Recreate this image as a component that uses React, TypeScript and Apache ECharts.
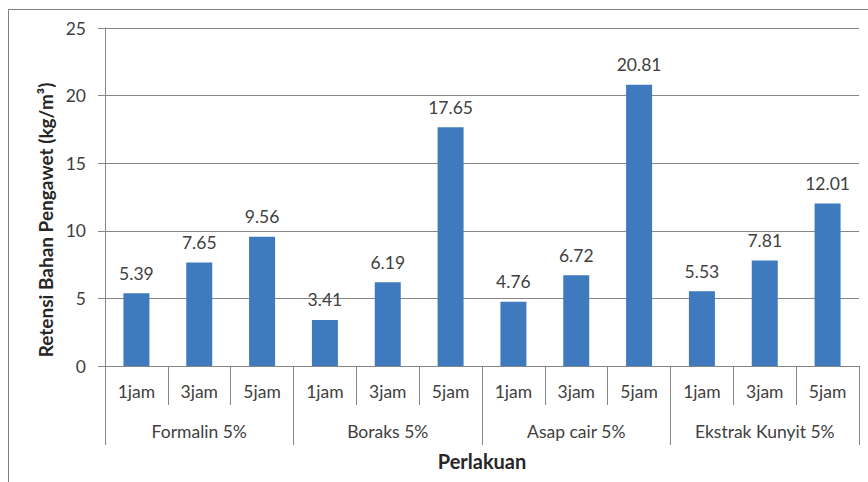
import React, { useEffect, useRef } from "react";
import * as echarts from "echarts";

const subCategories = ["1jam", "3jam", "5jam", "1jam", "3jam", "5jam", "1jam", "3jam", "5jam", "1jam", "3jam", "5jam"];
const groups = ["Formalin 5%", "Boraks 5%", "Asap cair 5%", "Ekstrak Kunyit 5%"];
const values = [5.39, 7.65, 9.56, 3.41, 6.19, 17.65, 4.76, 6.72, 20.81, 5.53, 7.81, 12.01];
const yTicks = { min: 0, max: 25, interval: 5 };

const FONT = "Lato, 'Open Sans', sans-serif";
const TEXT = "#404040";
const LINE = "#868686";
const FS = 17.5;

export default function App() {
  const ref = useRef<HTMLDivElement>(null);
  useEffect(() => {
    document.body.style.margin = "0";
    if (!ref.current) return;
    const chart = echarts.init(ref.current, undefined, { renderer: "svg" });
    chart.setOption({
      animation: false,
      backgroundColor: "#ffffff",
      textStyle: { fontFamily: FONT },
      graphic: [
        {
          type: "rect",
          shape: { x: 8.5, y: 9.5, width: 870, height: 480 },
          style: { fill: "none", stroke: "#7f7f7f", lineWidth: 1 },
          silent: true,
        },
      ],
      grid: { left: 105, right: 9, top: 28, bottom: 116, containLabel: false },
      xAxis: [
        {
          type: "category",
          data: subCategories,
          position: "bottom",
          axisLine: { show: true, lineStyle: { color: LINE } },
          axisTick: { show: true, length: 39, lineStyle: { color: LINE } },
          axisLabel: { interval: 0, margin: 16, fontSize: FS, color: TEXT, fontFamily: FONT },
        },
        {
          type: "category",
          data: groups,
          position: "bottom",
          axisLine: { show: false },
          axisTick: { show: true, length: 79, lineStyle: { color: LINE } },
          axisLabel: { interval: 0, margin: 56, fontSize: FS, color: TEXT, fontFamily: FONT },
          name: "Perlakuan",
          nameLocation: "middle",
          nameGap: 85,
          nameTextStyle: { fontSize: 20, fontWeight: "bold", color: "#262626", fontFamily: FONT },
        },
      ],
      yAxis: {
        type: "value",
        min: yTicks.min,
        max: yTicks.max,
        interval: yTicks.interval,
        axisLine: { show: true, lineStyle: { color: LINE } },
        axisTick: { show: true, length: 7, lineStyle: { color: LINE } },
        axisLabel: { fontSize: FS, color: TEXT, margin: 19, fontFamily: FONT },
        splitLine: { show: true, lineStyle: { color: LINE } },
        name: "Retensi Bahan Pengawet (kg/m³)",
        nameLocation: "middle",
        nameGap: 46,
        nameTextStyle: { fontSize: 19, fontWeight: "bold", color: "#262626", fontFamily: FONT, padding: [0, 46, 0, 0] },
      },
      series: [
        {
          type: "bar",
          xAxisIndex: 0,
          data: values,
          barWidth: 26,
          itemStyle: { color: "#3f7abf" },
          label: {
            show: true,
            position: "top",
            distance: 11,
            fontSize: FS,
            color: TEXT,
            fontFamily: FONT,
            formatter: (p: any) => p.value.toFixed(2),
          },
        },
      ],
    });
    return () => chart.dispose();
  }, []);
  return <div ref={ref} style={{ width: 868, height: 482 }} />;
}
